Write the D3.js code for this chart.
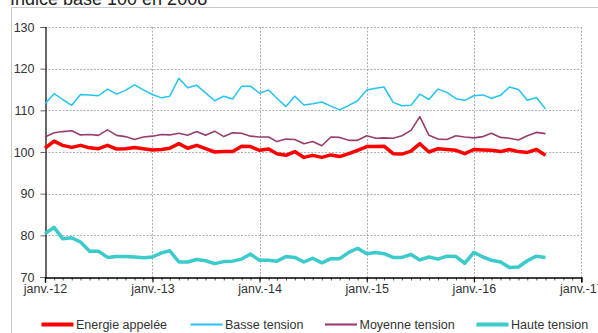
<!DOCTYPE html>
<html>
<head>
<meta charset="utf-8">
<script src="https://cdn.jsdelivr.net/npm/d3@7/dist/d3.min.js"></script>
<style>
  html, body { margin: 0; padding: 0; background: #fff; }
  svg { display: block; font-family: "Liberation Sans", Arial, sans-serif; }
</style>
</head>
<body>
<svg id="chart" width="598" height="333"></svg>
<script>
// Monthly indices, base 100 in 2008, from January 2012 to September 2016
const firstMonth = new Date(2012, 0, 1);
const lastMonth = new Date(2016, 8, 1);

const energieAppelee = [
  100.9, 102.6, 101.6, 101.1, 101.6, 101.0, 100.8, 101.6, 100.7, 100.8, 101.1, 100.8,
  100.5, 100.6, 100.9, 102.0, 100.9, 101.6, 100.8, 100.0, 100.1, 100.1, 101.4, 101.3,
  100.4, 100.7, 99.6, 99.2, 100.1, 98.7, 99.2, 98.7, 99.3, 98.9, 99.6, 100.4,
  101.3, 101.3, 101.4, 99.6, 99.5, 100.2, 102.0, 100.0, 100.8, 100.6, 100.4, 99.6,
  100.6, 100.5, 100.4, 100.1, 100.6, 100.1, 99.9, 100.6, 99.2
];
const basseTension = [
  111.6, 114.0, 112.6, 111.2, 113.8, 113.7, 113.5, 115.1, 113.9, 114.8, 116.1, 114.9,
  113.8, 113.0, 113.4, 117.7, 115.4, 116.0, 114.2, 112.3, 113.4, 112.7, 115.8, 115.8,
  114.1, 114.9, 112.9, 110.9, 113.4, 111.3, 111.6, 112.0, 111.0, 110.1, 111.2, 112.3,
  114.9, 115.3, 115.6, 111.9, 111.1, 111.2, 113.9, 112.6, 115.1, 114.3, 112.8, 112.4,
  113.5, 113.7, 112.9, 113.6, 115.6, 115.0, 112.4, 113.1, 110.3
];
const moyenneTension = [
  103.6, 104.6, 104.9, 105.1, 104.1, 104.2, 104.0, 105.3, 104.0, 103.7, 103.0, 103.6,
  103.8, 104.2, 104.1, 104.5, 104.0, 104.9, 104.0, 105.0, 103.7, 104.6, 104.5, 103.8,
  103.6, 103.6, 102.5, 103.1, 103.0, 102.0, 102.5, 101.5, 103.6, 103.5, 102.8, 102.8,
  103.9, 103.3, 103.4, 103.3, 103.9, 105.2, 108.5, 104.0, 103.1, 103.0, 103.9, 103.6,
  103.4, 103.7, 104.5, 103.5, 103.3, 102.9, 103.9, 104.7, 104.4
];
const hauteTension = [
  80.4, 81.9, 79.2, 79.4, 78.4, 76.2, 76.2, 74.7, 74.9, 74.9, 74.8, 74.6,
  74.8, 75.8, 76.3, 73.6, 73.6, 74.2, 73.9, 73.2, 73.7, 73.8, 74.3, 75.5,
  74.0, 74.0, 73.8, 74.9, 74.7, 73.6, 74.5, 73.4, 74.4, 74.4, 75.9, 76.9,
  75.6, 75.9, 75.6, 74.7, 74.7, 75.4, 74.1, 74.8, 74.3, 75.0, 74.9, 73.3,
  75.9, 74.8, 74.0, 73.6, 72.3, 72.4, 73.9, 75.0, 74.7
];

const seriesNames = ["Energie appelée", "Basse tension", "Moyenne tension", "Haute tension"];
const seriesColors = ["#ff0000", "#22c4f2", "#993d6e", "#3ccaca"];
const seriesWidths = [3.5, 1.5, 1.6, 3.5];
const seriesValues = [energieAppelee, basseTension, moyenneTension, hauteTension];

const yTicks = [70, 80, 90, 100, 110, 120, 130];
const yearTicks = [2012, 2013, 2014, 2015, 2016, 2017];
const yearLabel = y => "janv.-" + String(y).slice(2);
const titleText = "Indice base 100 en 2008";

const months = d3.timeMonth.range(firstMonth, d3.timeMonth.offset(lastMonth, 1));

const svg = d3.select("#chart");
const plotLeft = 45, plotRight = 581.3, plotTop = 27, plotBottom = 277;

const x = d3.scaleTime()
  .domain([new Date(2012, 0, 1), new Date(2017, 0, 1)])
  .range([plotLeft, plotRight]);
const y = d3.scaleLinear().domain([70, 130]).range([plotBottom, plotTop]);

// Title, partly above the frame
svg.append("text")
  .attr("x", 10).attr("y", 4.5)
  .attr("font-size", 18).attr("fill", "#222")
  .text(titleText);

// Outer frame
svg.append("path")
  .attr("d", "M11.5,333 V7.5 H598")
  .attr("fill", "none").attr("stroke", "#c8c8c8").attr("stroke-width", 1);

// Grid
const grid = svg.append("g").attr("stroke", "#9a9a9a").attr("stroke-width", 0.8)
  .attr("stroke-dasharray", "2,1.5").attr("fill", "none");
grid.selectAll("line.h").data(yTicks.filter(t => t > 70)).join("line")
  .attr("class", "h")
  .attr("x1", plotLeft).attr("x2", plotRight)
  .attr("y1", d => Math.round(y(d)) + 0.5).attr("y2", d => Math.round(y(d)) + 0.5);
grid.selectAll("line.v").data(yearTicks.filter(t => t > 2012)).join("line")
  .attr("class", "v")
  .attr("x1", d => Math.round(x(new Date(d, 0, 1))) + 0.5)
  .attr("x2", d => Math.round(x(new Date(d, 0, 1))) + 0.5)
  .attr("y1", plotTop).attr("y2", plotBottom);

// Y axis
const yAxis = d3.axisLeft(y).tickValues(yTicks).tickSize(5).tickPadding(6);
const gy = svg.append("g").attr("transform", `translate(${plotLeft + 0.5},0)`).call(yAxis);
gy.select(".domain").attr("stroke", "#000").attr("stroke-width", 1.2);
gy.selectAll(".tick line").attr("stroke", "#666");
gy.selectAll(".tick text").attr("font-size", 12.5).attr("fill", "#333")
  .attr("font-family", "Liberation Sans, Arial, sans-serif");

// X axis: monthly minor ticks, yearly major ticks with labels
const monthTicks = d3.timeMonth.range(new Date(2012, 0, 1), new Date(2017, 0, 2));
const gxMinor = svg.append("g").attr("transform", `translate(0,${plotBottom + 0.5})`)
  .call(d3.axisBottom(x).tickValues(monthTicks).tickSize(3).tickFormat(""));
gxMinor.select(".domain").remove();
gxMinor.selectAll(".tick line").attr("stroke", "#555");

const gx = svg.append("g").attr("transform", `translate(0,${plotBottom + 0.5})`)
  .call(d3.axisBottom(x)
    .tickValues(yearTicks.map(v => new Date(v, 0, 1)))
    .tickSize(5).tickPadding(2)
    .tickFormat(d => yearLabel(d.getFullYear())));
gx.select(".domain").attr("stroke", "#000").attr("stroke-width", 1.4);
gx.selectAll(".tick line").attr("stroke", "#000");
gx.selectAll(".tick text").attr("font-size", 12.5).attr("fill", "#333")
  .attr("font-family", "Liberation Sans, Arial, sans-serif");

// Series lines
const line = d3.line()
  .x((d, i) => x(months[i]))
  .y(d => y(d));
const order = [1, 2, 0, 3];
svg.append("g").selectAll("path").data(order).join("path")
  .attr("d", k => line(seriesValues[k]))
  .attr("fill", "none")
  .attr("stroke", k => seriesColors[k])
  .attr("stroke-width", k => seriesWidths[k])
  .attr("stroke-linejoin", "round")
  .attr("stroke-linecap", "butt");

// Legend
const legendX = [41.5, 190.5, 325, 476.5];
const legendY = 324.5;
const lg = svg.append("g");
seriesNames.forEach((name, k) => {
  lg.append("line")
    .attr("x1", legendX[k]).attr("x2", legendX[k] + 32)
    .attr("y1", legendY).attr("y2", legendY)
    .attr("stroke", seriesColors[k])
    .attr("stroke-width", seriesWidths[k] + 0.5);
  lg.append("text")
    .attr("x", legendX[k] + 34.5).attr("y", legendY + 4.5)
    .attr("font-size", 12.5).attr("fill", "#333")
    .text(name);
});
</script>
</body>
</html>
